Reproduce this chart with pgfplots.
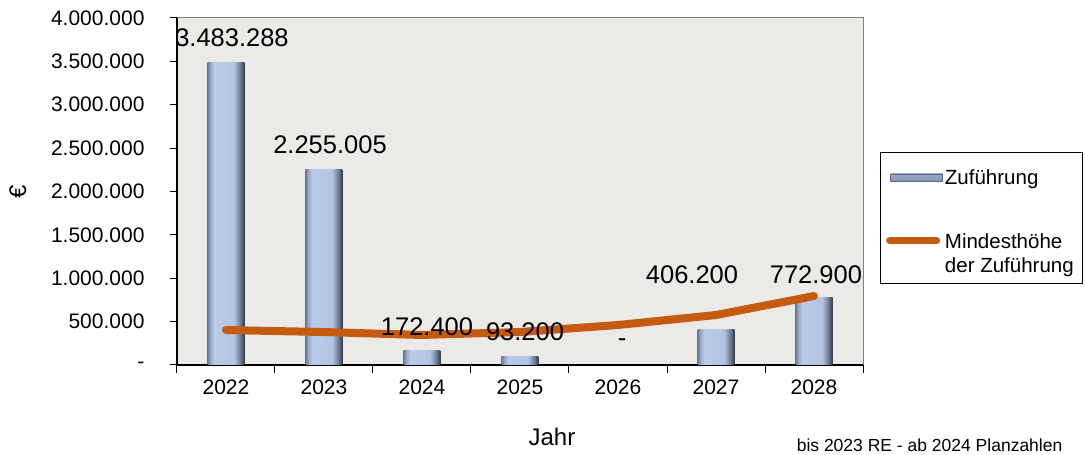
\documentclass[border=0pt]{standalone}
\usepackage{pgfplots}
\pgfplotsset{compat=1.18}
\usepackage{fontspec}
\setmainfont{Liberation Sans}
\definecolor{bg}{HTML}{EBEAE7}
\definecolor{linec}{HTML}{C55A11}
\definecolor{frame}{HTML}{808080}
\definecolor{bA}{HTML}{6D7A95}
\definecolor{bB}{HTML}{9AAACA}
\definecolor{bC}{HTML}{BACBEA}
\definecolor{bD}{HTML}{B3C4E3}
\definecolor{bE}{HTML}{8A98B3}
\definecolor{bF}{HTML}{5E697F}
\definecolor{bG}{HTML}{3A414E}
\pgfdeclarehorizontalshading{barshade}{100bp}{color(0bp)=(bA); color(25bp)=(bA); color(29bp)=(bB); color(34bp)=(bC); color(61bp)=(bD); color(66bp)=(bE); color(71bp)=(bF); color(74bp)=(bG); color(100bp)=(bG)}
\begin{document}
\begin{tikzpicture}[x=1pt,y=1pt]
\useasboundingbox (-177,-90) rectangle (908,365);
\begin{axis}[
  at={(0,0)}, anchor=south west,
  scale only axis, width=686pt, height=347pt,
  xmin=-0.5, xmax=6.5, ymin=0, ymax=4000000,
  clip=false,
  axis background/.style={fill=bg, draw=frame, line width=1pt},
  axis x line*=bottom, axis y line*=left,
  axis line style={black, line width=1.2pt, -},
  tick align=outside,
  major tick length=7pt, minor tick length=8pt,
  tick style={black, line width=1pt},
  xtick={0,1,2,3,4,5,6},
  xticklabels={2022,2023,2024,2025,2026,2027,2028},
  x tick style={draw=none},
  minor xtick={-0.5,0.5,1.5,2.5,3.5,4.5,5.5,6.5},
  minor x tick style={draw=black, line width=1pt},
  ytick={0,500000,1000000,1500000,2000000,2500000,3000000,3500000,4000000},
  yticklabels={-,500.000,1.000.000,1.500.000,2.000.000,2.500.000,3.000.000,3.500.000,4.000.000},
  scaled y ticks=false,
  ticklabel style={font=\fontsize{21}{23}\selectfont},
  yticklabel style={xshift=-22pt},
  xticklabel style={yshift=-4pt},
  xlabel={Jahr},
  xlabel style={at={(axis description cs:0.5466,-0.2075)}, anchor=center, font=\fontsize{24}{26}\selectfont},
  ylabel={€},
  ylabel style={at={(axis description cs:-0.232,0.5)}, anchor=center, font=\fontsize{24}{26}\selectfont},
  legend cell align=left,
  legend style={at={(axis description cs:1.0248,0.5994)}, anchor=north west,
    draw=none, fill=none,
    font=\fontsize{20.5}{24}\selectfont,
    inner xsep=6pt, inner ysep=10pt, row sep=42pt},
  zbar/.style={ybar, bar width=37pt, bar shift=0pt, shading=barshade, draw=none},
]
\draw[black, line width=0.8pt, fill=white] (axis description cs:1.0248,0.6138) rectangle (axis description cs:1.3192,0.2363);
\addplot[zbar,
  legend image code/.code={\draw[draw=bF, line width=0.5pt, top color=bB, middle color=bC, bottom color=bE] (3pt,-3.5pt) rectangle (55pt,3.5pt);}]
  coordinates {(0,3483288)};
\addlegendentry{Zuführung}
\addplot[zbar, forget plot] coordinates {(1,2255005)};
\addplot[zbar, forget plot] coordinates {(2,172400)};
\addplot[zbar, forget plot] coordinates {(3,93200)};
\addplot[zbar, forget plot] coordinates {(5,406200)};
\addplot[zbar, forget plot] coordinates {(6,772900)};
\addplot[linec, line width=8pt, line cap=round, line join=round, mark=none,
  legend image code/.code={\draw[linec, line width=7pt, line cap=round] (2pt,0pt) -- (49pt,0pt);}]
  table[x=x, y=y] {
x y
0 403000
1 380000
2 346000
3 380000
4 461000
5 576000
6 795000
};
\addlegendentry{\begin{tabular}[t]{@{}l@{}}Mindesthöhe\\der Zuführung\end{tabular}}
\addplot[forget plot, draw=none, mark=none, nodes near coords, point meta=explicit symbolic,
  nodes near coords style={anchor=center, inner sep=0pt, font=\fontsize{25.5}{27}\selectfont}]
  table[x=x, y=y, meta=lab] {
x y lab
0.061 3770000 3.483.288
1.061 2536000 2.255.005
2.051 438000 172.400
3.051 380000 93.200
4.041 254000 -
4.755 1037000 406.200
6.020 1037000 772.900
};
\node[anchor=east, font=\fontsize{17.5}{19}\selectfont] at (axis description cs:1.2958,-0.2305) {bis  2023 RE - ab  2024 Planzahlen};
\end{axis}
\end{tikzpicture}
\end{document}
